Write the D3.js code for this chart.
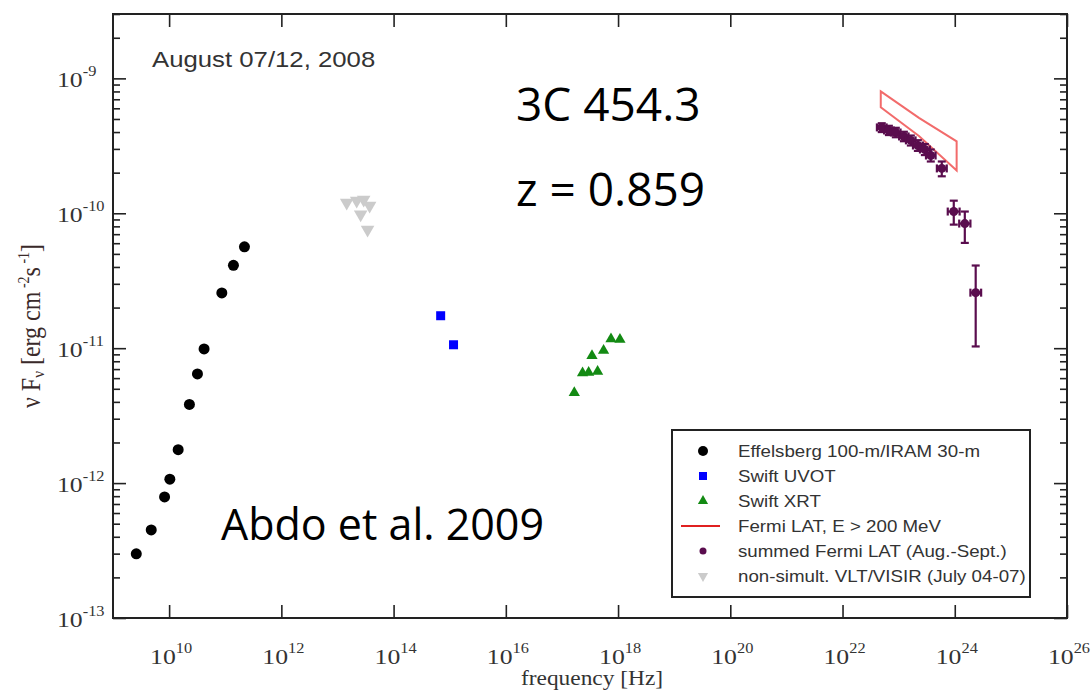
<!DOCTYPE html>
<html>
<head>
<meta charset="utf-8">
<script src="https://cdn.jsdelivr.net/npm/d3@7"></script>
<style>
body { margin: 0; background: #fff; }
svg { display: block; }
</style>
</head>
<body>
<svg id="chart" width="1091" height="690"></svg>
<script>
// Effelsberg 100-m / IRAM 30-m
const radioFreq = [2.6e9, 4.8e9, 8.3e9, 1.03e10, 1.45e10, 2.3e10, 3.2e10, 4.2e10, 8.7e10, 1.4e11, 2.2e11]
const radioFlux = [2.99e-13, 4.5e-13, 7.9e-13, 1.07e-12, 1.77e-12, 3.83e-12, 6.44e-12, 9.87e-12, 2.57e-11, 4.11e-11, 5.64e-11]

// Swift UVOT
const uvotFreq = [6.9e14, 1.17e15]
const uvotFlux = [1.74e-11, 1.06e-11]

// Swift XRT
const xrtFreq = [1.66e17, 2.33e17, 2.99e17, 4.32e17, 3.43e17, 5.52e17, 7.48e17, 1.08e18]
const xrtFlux = [4.68e-12, 6.55e-12, 6.6e-12, 6.73e-12, 8.8e-12, 9.6e-12, 1.17e-11, 1.16e-11]

// non-simult. VLT/VISIR
const visirFreq = [1.46e13, 2.2e13, 2.93e13, 3.74e13, 2.59e13, 3.44e13]
const visirFlux = [1.2e-10, 1.24e-10, 1.26e-10, 1.14e-10, 9.8e-11, 7.57e-11]

// Fermi LAT bowtie, E > 200 MeV
const bowFreq = [4.8e22, 2.3e23, 1.08e24]
const bowUpper = [8.0e-10, 5.1e-10, 3.41e-10]
const bowLower = [6.1e-10, 3.74e-10, 2.08e-10]

// summed Fermi LAT (Aug.-Sept.)
const latFreq = [5.0e22, 6.7e22, 8.9e22, 1.24e23, 1.65e23, 2.2e23, 2.93e23, 3.74e23, 5.87e23, 9.6e23, 1.51e24, 2.36e24]
const latFreqLo = [4.1e22, 5.5e22, 7.3e22, 1.02e23, 1.35e23, 1.8e23, 2.4e23, 3.07e23, 4.8e23, 7.5e23, 1.2e24, 1.9e24]
const latFreqHi = [6.1e22, 8.2e22, 1.08e23, 1.5e23, 2.0e23, 2.7e23, 3.6e23, 4.55e23, 7.2e23, 1.22e24, 1.9e24, 2.95e24]
const latFlux = [4.33e-10, 4.11e-10, 3.97e-10, 3.71e-10, 3.47e-10, 3.18e-10, 2.97e-10, 2.68e-10, 2.15e-10, 1.03e-10, 8.39e-11, 2.58e-11]
const latFluxLo = [4.0e-10, 3.8e-10, 3.66e-10, 3.42e-10, 3.18e-10, 2.9e-10, 2.7e-10, 2.42e-10, 1.88e-10, 8.24e-11, 6.03e-11, 1.03e-11]
const latFluxHi = [4.65e-10, 4.45e-10, 4.3e-10, 4.02e-10, 3.77e-10, 3.48e-10, 3.26e-10, 2.97e-10, 2.42e-10, 1.24e-10, 1.03e-10, 4.1e-11]

const xTickExps = [10, 12, 14, 16, 18, 20, 22, 24, 26]
const yTickExps = [-13, -12, -11, -10, -9]

const legendLabels = ["Effelsberg 100-m/IRAM 30-m", "Swift UVOT", "Swift XRT", "Fermi LAT, E > 200 MeV",
    "summed Fermi LAT (Aug.-Sept.)", "non-simult. VLT/VISIR (July 04-07)"]

const colors = {radio: "#000", uvot: "#0000ff", xrt: "#138a13", bow: "#f26b6b", lat: "#5a0d4e", visir: "#cbcbcb"}

const margins = {left: 113, right: 24, top: 14, bottom: 72}
const width = 1091, height = 690
const svg = d3.select("#chart")

const x = d3.scaleLog().domain([1e9, 1e26]).range([margins.left, width - margins.right])
const y = d3.scaleLog().domain([1e-13, 3e-9]).range([height - margins.bottom, margins.top])
const x0 = x.range()[0], x1 = x.range()[1], y0 = y.range()[0], y1 = y.range()[1]

const serif = "'Liberation Serif', 'DejaVu Serif', serif"
const sans = "'Liberation Sans', Arial, sans-serif"
const stretch = 1.17

// axes, ticks pointing inward
let xTicks = xTickExps.map(e => Math.pow(10, e))
let yMajor = yTickExps.map(e => Math.pow(10, e))
let yMinor = y.ticks().filter(v => Math.abs(Math.log10(v) - Math.round(Math.log10(v))) > 1e-6)

function styleAxis(g) {
    g.select(".domain").remove()
    g.selectAll("line").attr("stroke", "#222").attr("stroke-width", 1.6)
}
svg.append("g").attr("transform", `translate(0,${y0})`)
    .call(d3.axisBottom(x).tickValues(xTicks).tickSize(-13).tickFormat("")).call(styleAxis)
svg.append("g").attr("transform", `translate(0,${y1})`)
    .call(d3.axisTop(x).tickValues(xTicks).tickSize(-13).tickFormat("")).call(styleAxis)
svg.append("g").attr("transform", `translate(${x0},0)`)
    .call(d3.axisLeft(y).tickValues(yMajor).tickSize(-13).tickFormat("")).call(styleAxis)
svg.append("g").attr("transform", `translate(${x0},0)`)
    .call(d3.axisLeft(y).tickValues(yMinor).tickSize(-7).tickFormat("")).call(styleAxis)
svg.append("g").attr("transform", `translate(${x1},0)`)
    .call(d3.axisRight(y).tickValues(yMajor).tickSize(-13).tickFormat("")).call(styleAxis)
svg.append("g").attr("transform", `translate(${x1},0)`)
    .call(d3.axisRight(y).tickValues(yMinor).tickSize(-7).tickFormat("")).call(styleAxis)

svg.append("rect").attr("x", x0).attr("y", y1).attr("width", x1 - x0).attr("height", y0 - y1)
    .attr("fill", "none").attr("stroke", "#222").attr("stroke-width", 2)

// tick labels with superscripts
let xl = svg.append("g").selectAll("text").data(xTickExps).join("text")
    .attr("transform", e => `translate(${x(Math.pow(10, e)) + 2},${y0 + 46}) scale(${stretch},1)`)
    .attr("text-anchor", "middle").attr("font-family", serif).attr("font-size", 22).attr("fill", "#333")
xl.append("tspan").text("10")
xl.append("tspan").attr("dy", -11).attr("font-size", 14).text(e => e)

let yl = svg.append("g").selectAll("text").data(yTickExps).join("text")
    .attr("transform", e => `translate(57,${y(Math.pow(10, e)) + 9}) scale(${stretch},1)`)
    .attr("font-family", serif).attr("font-size", 22).attr("fill", "#333")
yl.append("tspan").text("10")
yl.append("tspan").attr("dy", -11).attr("font-size", 14).text(e => "-" + e.toString().slice(1))

// axis titles
svg.append("text").attr("transform", `translate(592,685) scale(${stretch},1)`)
    .attr("text-anchor", "middle").attr("font-family", serif).attr("font-size", 20).attr("fill", "#333")
    .text("frequency [Hz]")

let yt = svg.append("text").attr("transform", `translate(40,326) rotate(-90) scale(1,${stretch})`)
    .attr("text-anchor", "middle").attr("font-family", serif).attr("font-size", 24).attr("fill", "#3a2a2a")
yt.append("tspan").text("ν F")
yt.append("tspan").attr("font-size", 15).attr("dy", 3).text("ν")
yt.append("tspan").attr("dy", -3).text(" [erg cm")
yt.append("tspan").attr("font-size", 14).attr("dy", -9).text(" -2")
yt.append("tspan").attr("dy", 9).text("s")
yt.append("tspan").attr("font-size", 14).attr("dy", -9).text(" -1")
yt.append("tspan").attr("dy", 9).text("]")

// Fermi LAT bowtie
let bowPts = bowFreq.map((f, i) => [f, bowUpper[i]]).concat(bowFreq.map((f, i) => [f, bowLower[i]]).reverse())
svg.append("path")
    .attr("d", d3.line().x(d => x(d[0])).y(d => y(d[1])).curve(d3.curveLinearClosed)(bowPts))
    .attr("fill", "none").attr("stroke", colors.bow).attr("stroke-width", 2)

// radio dots
svg.append("g").selectAll("circle").data(radioFreq).join("circle")
    .attr("cx", d => x(d)).attr("cy", (d, i) => y(radioFlux[i])).attr("r", 5.5).attr("fill", colors.radio)

// UVOT squares
svg.append("g").selectAll("rect").data(uvotFreq).join("rect")
    .attr("x", d => x(d) - 4.5).attr("y", (d, i) => y(uvotFlux[i]) - 4.5)
    .attr("width", 9).attr("height", 9).attr("fill", colors.uvot)

// XRT triangles
svg.append("g").selectAll("path").data(xrtFreq).join("path")
    .attr("d", d3.symbol(d3.symbolTriangle, 55))
    .attr("transform", (d, i) => `translate(${x(d)},${y(xrtFlux[i])})`)
    .attr("fill", colors.xrt)

// VISIR downward triangles
svg.append("g").selectAll("path").data(visirFreq).join("path")
    .attr("d", d3.symbol(d3.symbolTriangle, 80))
    .attr("transform", (d, i) => `translate(${x(d)},${y(visirFlux[i])}) rotate(180)`)
    .attr("fill", colors.visir)

// summed LAT points with error bars
let lat = svg.append("g").attr("stroke", colors.lat).attr("stroke-width", 2.2)
let cap = 4
latFreq.forEach((f, i) => {
    let cx = x(f), cy = y(latFlux[i])
    let ylo = y(latFluxLo[i]), yhi = y(latFluxHi[i])
    let xlo = x(latFreqLo[i]), xhi = x(latFreqHi[i])
    lat.append("line").attr("x1", cx).attr("x2", cx).attr("y1", ylo).attr("y2", yhi)
    lat.append("line").attr("x1", cx - cap).attr("x2", cx + cap).attr("y1", ylo).attr("y2", ylo)
    lat.append("line").attr("x1", cx - cap).attr("x2", cx + cap).attr("y1", yhi).attr("y2", yhi)
    lat.append("line").attr("x1", xlo).attr("x2", xhi).attr("y1", cy).attr("y2", cy)
    lat.append("line").attr("x1", xlo).attr("x2", xlo).attr("y1", cy - cap).attr("y2", cy + cap)
    lat.append("line").attr("x1", xhi).attr("x2", xhi).attr("y1", cy - cap).attr("y2", cy + cap)
    lat.append("circle").attr("cx", cx).attr("cy", cy).attr("r", 4.5).attr("fill", colors.lat).attr("stroke", "none")
})

// annotation texts
svg.append("text").attr("transform", `translate(152,67) scale(${stretch},1)`)
    .attr("font-family", sans).attr("font-size", 22).attr("fill", "#333").text("August 07/12, 2008")
svg.append("text").attr("x", 516).attr("y", 121).attr("font-family", "'Open Sans', sans-serif")
    .attr("font-size", 46).attr("fill", "#000").text("3C 454.3")
svg.append("text").attr("x", 516).attr("y", 206).attr("font-family", "'Open Sans', sans-serif")
    .attr("font-size", 46).attr("fill", "#000").text("z = 0.859")
svg.append("text").attr("x", 221).attr("y", 540).attr("font-family", "'Open Sans', sans-serif")
    .attr("font-size", 43).attr("fill", "#000").text("Abdo et al. 2009")

// legend
let leg = svg.append("g")
leg.append("rect").attr("x", 672).attr("y", 430).attr("width", 358).attr("height", 167)
    .attr("fill", "#fff").attr("stroke", "#222").attr("stroke-width", 2)
let rowY = i => 451 + i * 25
let sx = 703
leg.append("circle").attr("cx", sx).attr("cy", rowY(0)).attr("r", 5).attr("fill", colors.radio)
leg.append("rect").attr("x", sx - 4).attr("y", rowY(1) - 4).attr("width", 8).attr("height", 8).attr("fill", colors.uvot)
leg.append("path").attr("d", d3.symbol(d3.symbolTriangle, 45)).attr("transform", `translate(${sx},${rowY(2)})`).attr("fill", colors.xrt)
leg.append("line").attr("x1", 681).attr("x2", 720).attr("y1", rowY(3)).attr("y2", rowY(3)).attr("stroke", "#e02020").attr("stroke-width", 2)
leg.append("circle").attr("cx", sx).attr("cy", rowY(4)).attr("r", 3.5).attr("fill", colors.lat)
leg.append("path").attr("d", d3.symbol(d3.symbolTriangle, 45)).attr("transform", `translate(${sx},${rowY(5)}) rotate(180)`).attr("fill", colors.visir)
leg.selectAll("text.lab").data(legendLabels).join("text").attr("class", "lab")
    .attr("transform", (d, i) => `translate(738,${rowY(i) + 6}) scale(${stretch},1)`)
    .attr("font-family", sans).attr("font-size", 16).attr("fill", "#333").text(d => d)
</script>
</body>
</html>
